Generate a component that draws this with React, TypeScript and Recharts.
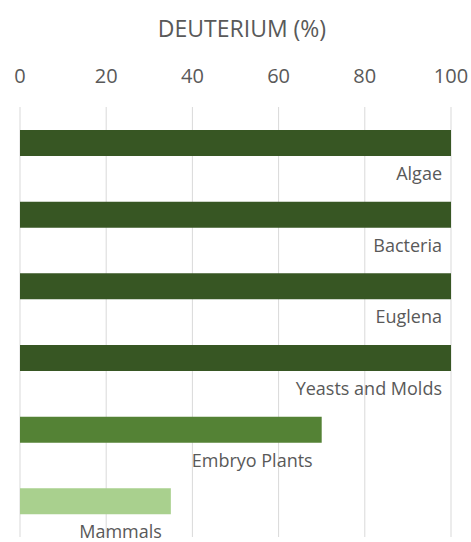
import React from 'react';
import { BarChart, Bar, XAxis, YAxis, CartesianGrid, Cell, LabelList } from 'recharts';

const categories = ['Algae', 'Bacteria', 'Euglena', 'Yeasts and Molds', 'Embryo Plants', 'Mammals'];
const deuterium = [100, 100, 100, 100, 70, 35];
const barColors = ['#375623', '#375623', '#375623', '#375623', '#548235', '#A9D08E'];
const xTicks = [0, 20, 40, 60, 80, 100];
const title = 'DEUTERIUM (%)';

const data = categories.map((name, i) => ({ name, value: deuterium[i] }));

const FONT = '"Open Sans", sans-serif';
const TEXT = '#595959';

const CatLabel = (props: any) => {
  const { x, y, width, height, index } = props;
  return (
    <text
      x={x + width - 9}
      y={y + height + 24}
      textAnchor="end"
      fontFamily={FONT}
      fontSize={18}
      fill={TEXT}
    >
      {categories[index]}
    </text>
  );
};

export default function App() {
  return (
    <div style={{ position: 'relative', width: 471, height: 542 }}>
      <style>{`html, body { margin: 0; padding: 0; overflow: hidden; }`}</style>
      <svg
        width={471}
        height={60}
        style={{ position: 'absolute', left: 0, top: 0, pointerEvents: 'none' }}
      >
        <text x={242} y={37} textAnchor="middle" fontFamily={FONT} fontSize={23} fill={TEXT}>
          {title}
        </text>
      </svg>
      <BarChart
        width={471}
        height={542}
        data={data}
        layout="vertical"
        margin={{ top: 77, right: 20, bottom: 5, left: 20 }}
        barCategoryGap={0}
      >
        <CartesianGrid horizontal={false} vertical={true} stroke="#d9d9d9" strokeWidth={1} />
        <XAxis
          type="number"
          orientation="top"
          domain={[0, 100]}
          ticks={xTicks}
          height={30}
          axisLine={false}
          tickLine={false}
          tickMargin={18}
          interval={0}
          tick={{ fontFamily: FONT, fontSize: 20, fill: TEXT }}
        />
        <YAxis type="category" dataKey="name" hide width={0} />
        <Bar dataKey="value" barSize={26} isAnimationActive={false}>
          {data.map((d, i) => (
            <Cell key={d.name} fill={barColors[i]} />
          ))}
          <LabelList dataKey="name" content={CatLabel} />
        </Bar>
      </BarChart>
    </div>
  );
}
